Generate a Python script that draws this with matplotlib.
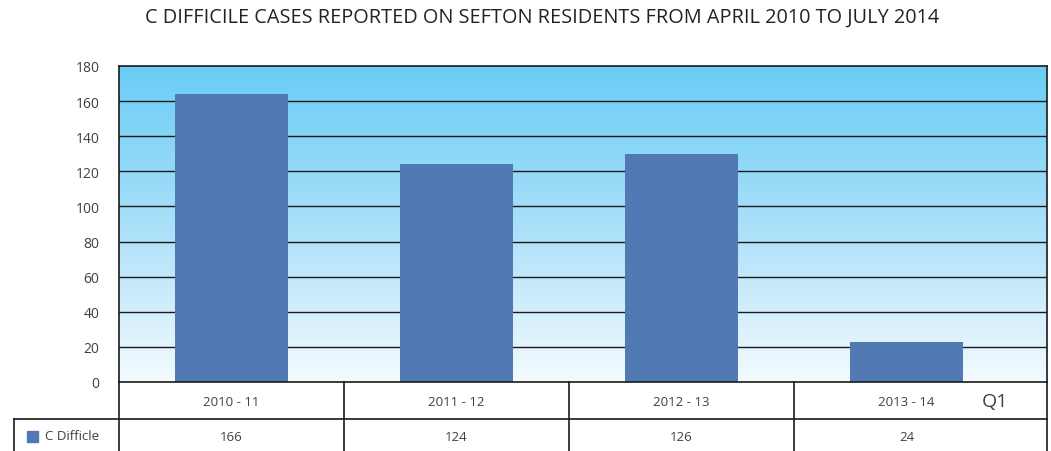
import matplotlib
matplotlib.use("Agg")
import matplotlib.pyplot as plt
import numpy as np
from matplotlib.colors import LinearSegmentedColormap
from matplotlib.lines import Line2D

title = "C DIFFICILE CASES REPORTED ON SEFTON RESIDENTS FROM APRIL 2010 TO JULY 2014"
categories = ["2010 - 11", "2011 - 12", "2012 - 13", "2013 - 14"]
bar_values = [164, 124, 130, 23]
table_values = ["166", "124", "126", "24"]
series_name = "C Difficle"
extra_label = "Q1"
yticks = [0, 20, 40, 60, 80, 100, 120, 140, 160, 180]

W, H = 1051, 452
fig = plt.figure(figsize=(W / 100, H / 100), dpi=100)
plt.rcParams['font.family'] = ['Open Sans', 'DejaVu Sans']

L, R, T, B = 119, 1047, 67, 383
ax = fig.add_axes([L / W, (H - B) / H, (R - L) / W, (B - T) / H])

n = len(categories)
ncat_span = (R - L) / 225.0
xmin = -0.5
xmax = xmin + ncat_span
ax.set_xlim(xmin, xmax)
ax.set_ylim(0, 180)

# gradient background
cmap = LinearSegmentedColormap.from_list("bg", ["#f4fafe", "#a9e0f9", "#6acdf5"])
grad = np.linspace(0, 1, 256).reshape(-1, 1)
ax.imshow(grad, extent=[xmin, xmax, 0, 180], origin="lower", aspect="auto",
          cmap=cmap, zorder=0)

for y in yticks[1:-1]:
    ax.axhline(y, color="#1a1a1a", lw=1.0, zorder=1)

x = np.arange(n)
ax.bar(x, bar_values, width=0.5, color="#5179b4", zorder=2)

ax.set_yticks(yticks)
ax.set_yticklabels([str(v) for v in yticks], fontsize=10, color="#404040")
ax.tick_params(axis="y", length=0, pad=14)
ax.set_xticks([])
for s in ["left", "top", "right", "bottom"]:
    ax.spines[s].set_color("#1a1a1a")
    ax.spines[s].set_linewidth(1.2)

# data table below
def fx(px):
    return px / W

def fy(py):
    return 1 - py / H

lc = "#1a1a1a"
lw = 1.2
row1_top, row1_bot, row2_bot = 383, 420, 452
fig.add_artist(Line2D([fx(14), fx(R)], [fy(row1_bot), fy(row1_bot)], color=lc, lw=lw))
fig.add_artist(Line2D([fx(14), fx(14)], [fy(row1_bot), fy(row2_bot)], color=lc, lw=lw))
for i in range(n + 1):
    px = L + 225 * i if i < n else R
    fig.add_artist(Line2D([fx(px), fx(px)], [fy(row1_top), fy(row2_bot)], color=lc, lw=lw))

for i, (c, v) in enumerate(zip(categories, table_values)):
    cx = L + 225 * (i + 0.5)
    fig.text(fx(cx), fy(402), c, ha="center", va="center",
             fontsize=9.5, color="#404040")
    fig.text(fx(cx), fy(438), v, ha="center", va="center",
             fontsize=9.5, color="#404040")

fig.text(fx(995), fy(402), extra_label, ha="center", va="center", fontsize=14,
         color="#404040")

# legend key
fig.add_artist(plt.Rectangle((fx(27), fy(443)), 11 / W, 11 / H, color="#5179b4",
                             transform=fig.transFigure))
fig.text(fx(45), fy(437), series_name, ha="left", va="center", fontsize=9.5,
         color="#404040")

fig.text(fx(542), fy(18), title, ha="center", va="center", fontsize=14.3,
         color="#222222")

fig.savefig("out.png", dpi=100)
